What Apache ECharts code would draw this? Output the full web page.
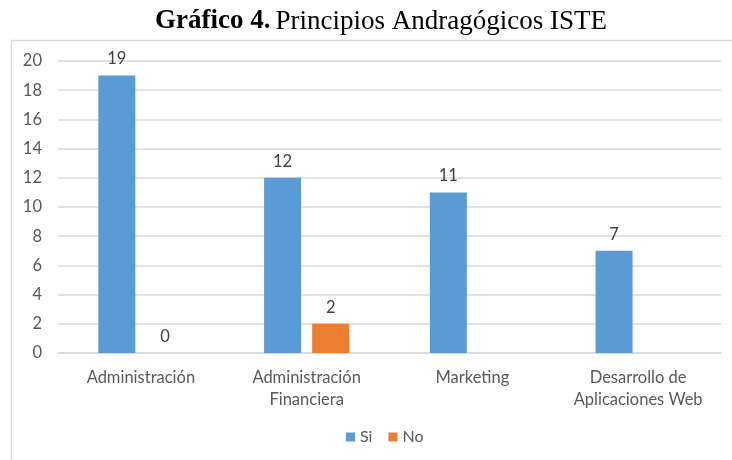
<!DOCTYPE html>
<html>
<head>
<meta charset="utf-8">
<script src="https://cdn.jsdelivr.net/npm/echarts@6/dist/echarts.min.js"></script>
<style>
  html, body { margin: 0; padding: 0; background: #fff; }
  #main { width: 732px; height: 460px; }
</style>
</head>
<body>
<div id="main"></div>
<script>
  // datos del gráfico
  var categorias = ['Administración', 'Administración\nFinanciera', 'Marketing', 'Desarrollo de\nAplicaciones Web'];
  var valoresSi = [19, 12, 11, 7];
  var valoresNo = [0, 2, '-', '-'];
  var ticksY = { min: 0, max: 20, interval: 2 };

  var myChart = echarts.init(document.getElementById('main'));
  var fuente = 'Lato, "Open Sans", sans-serif';
  var serif = '"Liberation Serif", "Times New Roman", serif';

  var option = {
    animation: false,
    title: {
      text: '{b|Gráfico 4.} {n|Principios Andragógicos ISTE}',
      left: 150,
      top: 3,
      textStyle: {
        fontWeight: 'normal',
        rich: {
          b: { fontFamily: serif, fontWeight: 'bold', fontSize: 27, color: '#000' },
          n: { fontFamily: serif, fontWeight: 'normal', fontSize: 27, color: '#000' }
        }
      }
    },
    graphic: [{
      type: 'rect',
      left: 9,
      top: 38,
      shape: { width: 740, height: 440 },
      style: { fill: 'none', stroke: '#d9d9d9', lineWidth: 1.5 },
      silent: true,
      z: -1
    }],
    legend: {
      data: ['Si', 'No'],
      bottom: 10,
      left: 341,
      itemWidth: 9,
      itemHeight: 9,
      itemGap: 16,
      icon: 'rect',
      textStyle: { fontFamily: fuente, fontSize: 16, color: '#595959' }
    },
    grid: { left: 58, right: 11, top: 61, bottom: 107, containLabel: false },
    xAxis: {
      type: 'category',
      data: categorias,
      axisLine: { show: true, lineStyle: { color: '#d9d9d9', width: 1.5 } },
      axisTick: { show: false },
      axisLabel: { fontFamily: fuente, fontSize: 16.5, color: '#595959', margin: 14, lineHeight: 22, interval: 0 }
    },
    yAxis: {
      type: 'value',
      min: ticksY.min,
      max: ticksY.max,
      interval: ticksY.interval,
      axisLine: { show: false },
      axisTick: { show: false },
      splitLine: { lineStyle: { color: '#d9d9d9', width: 1.5 } },
      axisLabel: { fontFamily: fuente, fontSize: 16.5, color: '#595959', margin: 16 }
    },
    series: [{
      name: 'Si',
      type: 'bar',
      data: valoresSi,
      barWidth: 37,
      barGap: '30%',
      itemStyle: { color: '#5b9bd5' },
      label: { show: true, position: 'top', distance: 8, fontFamily: fuente, fontSize: 16.5, color: '#404040' }
    }, {
      name: 'No',
      type: 'bar',
      data: valoresNo,
      barWidth: 37,
      barGap: '30%',
      itemStyle: { color: '#ed7d31' },
      label: { show: true, position: 'top', distance: 8, fontFamily: fuente, fontSize: 16.5, color: '#404040' }
    }]
  };
  myChart.setOption(option);
</script>
</body>
</html>
